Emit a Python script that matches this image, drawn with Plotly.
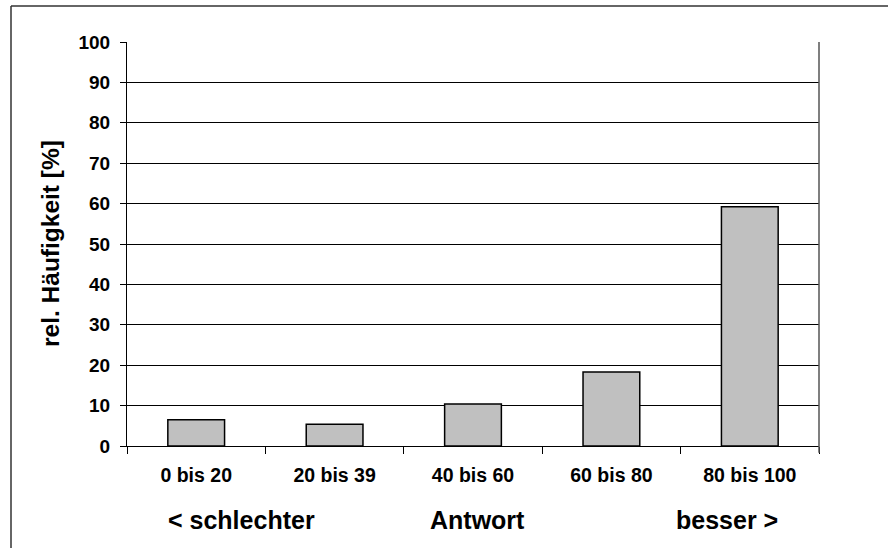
import plotly.graph_objects as go

kategorien = ["0 bis 20", "20 bis 39", "40 bis 60", "60 bis 80", "80 bis 100"]
haeufigkeit = [6.5, 5.4, 10.4, 18.3, 59.2]
y_ticks = [0, 10, 20, 30, 40, 50, 60, 70, 80, 90, 100]
skala_texte = ["< schlechter", "Antwort", "besser >"]
skala_pos = [0.165, 0.506, 0.867]

# etwas breiter als das Fenster, damit der rechte Rand nicht sichtbar ist
W, H = 900, 560
L, T = 127, 42
R = W - 819
B = H - 446
pw, ph = W - L - R, H - T - B

def px_x(x):
    return (x - L) / pw

def px_y(y):
    return (H - B - y) / ph

schrift = dict(family="Liberation Sans, Arial", color="black", weight="bold")

fig = go.Figure(go.Bar(
    x=kategorien,
    y=haeufigkeit,
    width=0.41,
    marker=dict(color="#c0c0c0", line=dict(color="black", width=1.5)),
))

fig.update_layout(
    width=W,
    height=H,
    margin=dict(l=L, r=R, t=T, b=B),
    plot_bgcolor="white",
    paper_bgcolor="white",
    showlegend=False,
    xaxis=dict(
        type="category",
        tickson="boundaries",
        ticks="outside",
        ticklen=7,
        tickcolor="black",
        showline=True,
        linecolor="black",
        linewidth=1,
        showgrid=False,
        ticklabelstandoff=12,
        tickfont=dict(size=19.5, **schrift),
    ),
    yaxis=dict(
        range=[0, 100],
        tickvals=y_ticks,
        ticks="outside",
        ticklen=6,
        tickcolor="black",
        showline=True,
        linecolor="black",
        linewidth=1,
        showgrid=True,
        gridcolor="black",
        gridwidth=1,
        zeroline=False,
        ticklabelstandoff=6,
        tickfont=dict(size=19, **schrift),
    ),
)

# Rahmen rechts am Diagramm
fig.add_shape(type="line", xref="paper", yref="paper", x0=1, x1=1, y0=-0.017, y1=1,
              line=dict(color="#555555", width=1.5))
# äußerer Rahmen: nur links und oben sichtbar
rahmen = dict(color="#333333", width=1.5)
fig.add_shape(type="line", xref="paper", yref="paper",
              x0=px_x(11), x1=px_x(11), y0=px_y(H), y1=px_y(6), line=rahmen)
fig.add_shape(type="line", xref="paper", yref="paper",
              x0=px_x(11), x1=px_x(W), y0=px_y(6), y1=px_y(6), line=rahmen)

fig.add_annotation(text="rel. Häufigkeit [%]", textangle=-90, xref="paper", yref="paper",
                   x=px_x(50), y=0.5, showarrow=False, xanchor="center", yanchor="middle",
                   font=dict(size=24.5, **schrift))

for txt, pos in zip(skala_texte, skala_pos):
    fig.add_annotation(text=txt, xref="paper", yref="paper", x=pos, y=px_y(520),
                       showarrow=False, xanchor="center", yanchor="middle",
                       font=dict(size=25, **schrift))

# Seitenrand entfernen, damit die Grafik bei (0,0) beginnt
fig.write_html("out.html", config={"displayModeBar": False},
               post_script="document.body.style.margin='0';document.body.style.overflow='hidden';")
